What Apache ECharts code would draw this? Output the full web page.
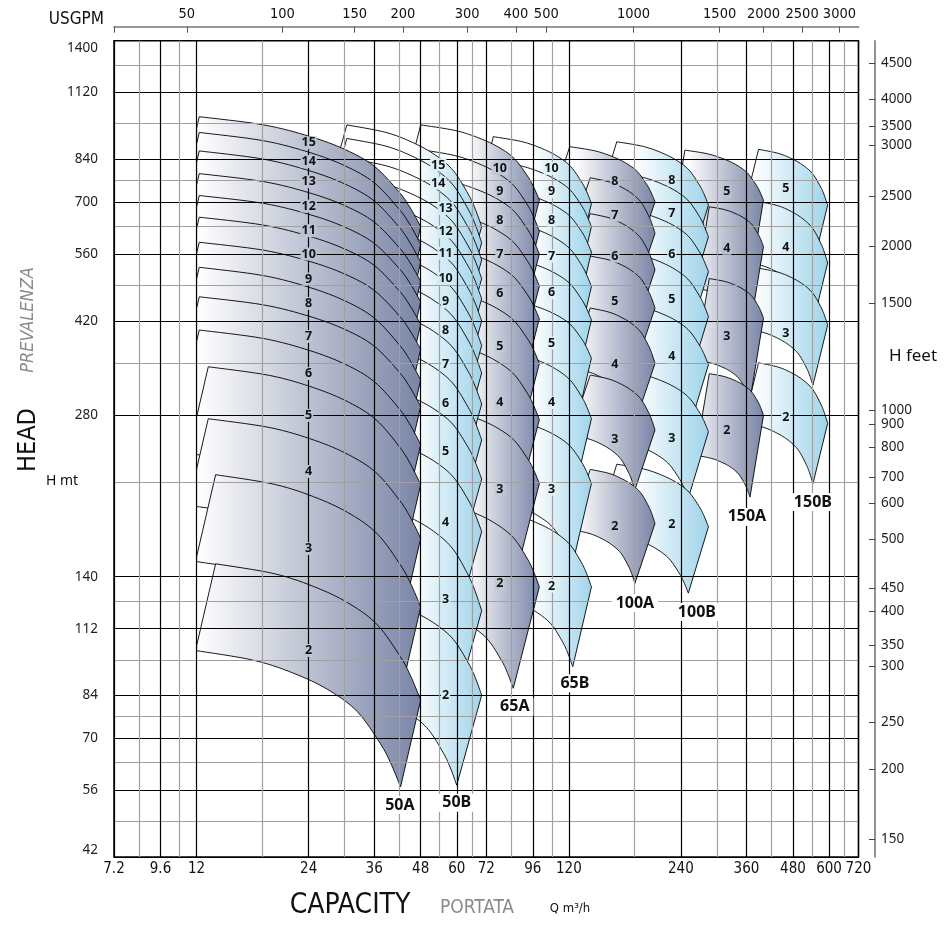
<!DOCTYPE html>
<html>
<head>
<meta charset="utf-8">
<style>
  html, body { margin: 0; padding: 0; background: #fff; }
  #chart-container { width: 951px; height: 928px; }
</style>
<script src="https://cdn.jsdelivr.net/npm/echarts@6/dist/echarts.min.js"></script>
</head>
<body>
<div id="chart-container"></div>
<script>
var dom = document.getElementById("chart-container");
var myChart = echarts.init(dom, null, {
  renderer: "canvas",
  useDirtyRect: false,
});

// ---- axes (capacity m3/h, head m) ----
var capacityLabels = [7.2, 9.6, 12, 24, 36, 48, 60, 72, 96, 120, 240, 360, 480, 600, 720];
var capacityGrid = [7.2, 8.4, 9.6, 10.8, 12, 18, 24, 30, 36, 42, 48, 54, 60, 66, 72, 84, 96, 108, 120,
  180, 240, 300, 360, 420, 480, 540, 600, 660, 720];
var headLabels = [42, 56, 70, 84, 112, 140, 280, 420, 560, 700, 840, 1120, 1400];
var headGrid = [42, 49, 56, 63, 70, 77, 84, 98, 112, 126, 140, 210, 280, 350, 420, 490, 560, 630,
  700, 770, 840, 980, 1120, 1260, 1400];

// secondary scales as printed (where each mark sits, in m3/h and in m)
var usgpmLabels = [50, 100, 150, 200, 300, 400, 500, 1000, 1500, 2000, 2500, 3000];
var usgpmAt = [11.3, 20.4, 31.9, 43.0, 64.0, 86.5, 104.4, 179, 305, 400, 508, 640];
var feetLabels = [4500, 4000, 3500, 3000, 2500, 2000, 1500, 1000, 900, 800, 700, 600, 500, 450, 400, 350, 300, 250, 200, 150];
var feetAt = [1270, 1090, 970, 894, 719, 580, 453, 286.5, 269.4, 244, 215, 191.9, 164.6, 133.2, 120.8, 104.4, 95.5, 74.8, 61.3, 45.3];

// shape of one stage curve: [share of the flow span, share of the head drop]
var curveShape = [[0, 0], [0.29, 0.074], [0.5, 0.18], [0.66, 0.3], [0.79, 0.45], [0.9, 0.68], [0.95, 0.82], [1, 1]];

// ---- pump families: per stage flow / head at the ends of the top curve ----
var stages50A = [2, 3, 4, 5, 6, 7, 8, 9, 10, 11, 12, 13, 14, 15];
var qLeft50A = [13.5, 13.5, 12.9, 12.9, 12.2, 12.2, 12.2, 12.2, 12.2, 12.2, 12.2, 12.2, 12.2, 12.2];
var topLeft50A = [148, 217, 276, 345, 404, 466, 529, 589, 656, 720, 791, 872, 944, 1010];
var topRight50A = [82.4, 123, 165, 208, 247, 291, 326, 372, 414, 456, 498, 541, 584, 630];
var labelHead50A = [102, 158, 220, 280, 335, 393, 453, 503, 560, 619, 688, 764, 833, 903];

var stages50B = [2, 3, 4, 5, 6, 7, 8, 9, 10, 11, 12, 13, 14, 15];
var topLeft50B = [130, 195, 260, 325, 390, 455, 520, 585, 650, 715, 780, 845, 920, 975];
var topRight50B = [84.2, 121, 170, 213, 252, 294, 336, 378, 420, 462, 504, 546, 588, 630];
var labelQ50B = [56, 56, 56, 56, 56, 56, 56, 56, 56, 56, 56, 56, 53.5, 53.5];
var labelHead50B = [84, 127, 177, 240, 295, 348, 404, 456, 504, 562, 616, 681, 759, 821];

var stages65A = [2, 3, 4, 5, 6, 7, 8, 9, 10];
var topLeft65A = [195, 292, 390, 487, 585, 682, 780, 877, 975];
var topRight65A = [134, 209, 275, 350, 424, 488, 560, 618, 706];
var labelHead65A = [136, 204, 296, 377, 472, 558, 646, 732, 809];

var stages65B = [2, 3, 4, 5, 6, 7, 8, 9, 10];
var topLeft65B = [185, 278, 371, 464, 556, 649, 742, 834, 927];
var topRight65B = [134, 209, 276, 358, 422, 487, 565, 630, 696];
var labelHead65B = [134.5, 204, 296, 382, 474, 555, 648, 732, 809];

var stages100A = [2, 3, 4, 5, 6, 7, 8];
var qLeft100A = [137, 137, 137, 137, 137, 137, 120.7];
var qMin100A = [129, 129, 129, 129, 129, 129, 110];
var topLeft100A = [222, 333, 444, 555, 666, 777, 888];
var topRight100A = [176, 263, 350, 444, 523, 612, 701];
var labelHead100A = [174, 252, 349, 456, 555, 662, 764];

var stages100B = [2, 3, 4, 5, 6, 7, 8];
var topLeft100B = [227, 340, 454, 567, 680, 794, 907];
var topRight100B = [173.5, 261, 348, 428, 519, 603, 691];
var labelHead100B = [175.6, 254, 360, 460, 559, 667, 769];

var stages150A = [2, 3, 4, 5];
var qLeft150A = [286, 286, 286, 246];
var topLeft150A = [335, 504, 686, 875];
var topRight150A = [280, 425, 578, 706];
var labelHead150A = [263, 393, 574, 732];

var stages150B = [2, 3, 4, 5];
var topLeft150B = [351, 527, 702, 878];
var topRight150B = [270.6, 413, 539, 691];
var labelHead150B = [277.6, 398.6, 576, 742];

var colorA = "#7a85a6";
var colorB = "#9fd4ea";
var numFont = '"Liberation Sans Narrow", "DejaVu Sans Condensed", sans-serif';
var sansFont = '"Noto Sans", "DejaVu Sans", sans-serif';

function fill(v, n) {
  var a = [];
  for (var i = 0; i < n; i++) a.push(v);
  return a;
}

function perStage(v, n) {
  return Array.isArray(v) ? v : fill(v, n);
}

function family(name, color, stages, qLeft, qRight, topLeft, topRight, shift, qMin, fadeFrom, labelQ, labelHead, tag) {
  var n = stages.length;
  return {
    name: name, color: color, stages: stages,
    qLeft: perStage(qLeft, n), qRight: qRight, topLeft: topLeft, topRight: topRight,
    shift: shift, qMin: perStage(qMin, n), fadeFrom: fadeFrom,
    labelQ: perStage(labelQ, n), labelHead: labelHead, tag: tag
  };
}

// drawn first = underneath
var families = [
  family("150B", colorB, stages150B, 388, 595, topLeft150B, topRight150B, [0.913, 0.772], null, 380, 459, labelHead150B, [543, 193]),
  family("150A", colorA, stages150A, qLeft150A, 400, topLeft150A, topRight150A, [0.92, 0.704], null, 250, 319, labelHead150A, [361, 181]),
  family("100B", colorB, stages100B, 161.4, 284.6, topLeft100B, topRight100B, [0.883, 0.752], null, 180, 226.9, labelHead100B, [265, 120.3]),
  family("100A", colorA, stages100A, qLeft100A, 204.5, topLeft100A, topRight100A, [0.883, 0.773], qMin100A, 125, 159.4, labelHead100A, [180.6, 125]),
  family("65B", colorB, stages65B, 75.2, 138, topLeft65B, topRight65B, [0.891, 0.71], null, 96, 107.8, labelHead65B, [124.6, 88.6]),
  family("65A", colorA, stages65A, 48, 100, topLeft65A, topRight65A, [0.851, 0.647], null, 64, 78.3, labelHead65A, [85.9, 80.1]),
  family("50B", colorB, stages50B, 30.4, 70, topLeft50B, topRight50B, [0.857, 0.679], null, 46, labelQ50B, labelHead50B, [60, 53]),
  family("50A", colorA, stages50A, qLeft50A, 48, topLeft50A, topRight50A, [0.883, 0.689], 12, 12, 24, labelHead50A, [42.2, 52.5])
];

function smoothLine(pts, steps) {
  var out = [];
  for (var i = 0; i < pts.length - 1; i++) {
    var p0 = pts[Math.max(i - 1, 0)], p1 = pts[i], p2 = pts[i + 1], p3 = pts[Math.min(i + 2, pts.length - 1)];
    for (var k = 0; k < steps; k++) {
      var t = k / steps, t2 = t * t, t3 = t2 * t;
      var xy = [0, 1].map(function (d) {
        return 0.5 * (2 * p1[d] + (-p0[d] + p2[d]) * t + (2 * p0[d] - 5 * p1[d] + 4 * p2[d] - p3[d]) * t2 +
          (-p0[d] + 3 * p1[d] - 3 * p2[d] + p3[d]) * t3);
      });
      out.push(xy);
    }
  }
  out.push(pts[pts.length - 1]);
  return out;
}

function clipLeft(pts, xc) {
  var out = [];
  for (var i = 0; i < pts.length; i++) {
    var a = pts[i], b = pts[(i + 1) % pts.length];
    var ina = a[0] >= xc, inb = b[0] >= xc;
    if (ina) out.push(a);
    if (ina !== inb) {
      var t = (xc - a[0]) / (b[0] - a[0]);
      out.push([xc, a[1] + t * (b[1] - a[1])]);
    }
  }
  return out;
}

function fadeRange(f, api) {
  return [api.coord([f.fadeFrom, 100])[0], api.coord([f.qRight, 100])[0]];
}

function tileSeries(f, k) {
  var data = f.stages.map(function (s, i) {
    return [f.qLeft[i], f.topLeft[i], i];
  }).reverse();
  return {
    type: "custom",
    name: f.name,
    silent: true,
    xAxisIndex: 0,
    yAxisIndex: 0,
    encode: { x: 0, y: 1 },
    data: data,
    renderItem: function (params, api) {
      var i = api.value(2);
      var qL = f.qLeft[i], qR = f.qRight, hL = f.topLeft[i], hR = f.topRight[i];
      var top = curveShape.map(function (p) {
        return [qL * Math.pow(qR / qL, p[0]), hL * Math.pow(hR / hL, p[1])];
      });
      var bottom = top.map(function (p) {
        return [p[0] * f.shift[0], p[1] * f.shift[1]];
      }).reverse();
      var toPx = function (p) { return api.coord(p); };
      var pts = smoothLine(top.map(toPx), 8).concat(smoothLine(bottom.map(toPx), 8));
      if (f.qMin[i]) pts = clipLeft(pts, api.coord([f.qMin[i], 100])[0]);
      var xr = fadeRange(f, api);
      return {
        type: "polygon",
        z2: k * 100 + (40 - f.stages[i]),
        shape: { points: pts },
        style: {
          fill: {
            type: "linear", x: xr[0], y: 0, x2: xr[1], y2: 0, global: true,
            colorStops: [{ offset: 0, color: "#ffffff" }, { offset: 1, color: f.color }]
          },
          stroke: "#000",
          lineWidth: 0.9
        }
      };
    }
  };
}

// labels: stage numbers and family names
var labelSpecs = [];
families.forEach(function (f, k) {
  f.stages.forEach(function (s, i) {
    labelSpecs.push({ q: f.labelQ[i], h: f.labelHead[i], text: String(s), fam: k, tag: false });
  });
  labelSpecs.push({ q: f.tag[0], h: f.tag[1], text: f.name, fam: k, tag: true });
});

var labelSeries = {
  type: "custom",
  silent: true,
  z: 20,
  xAxisIndex: 0,
  yAxisIndex: 0,
  encode: { x: 0, y: 1 },
  data: labelSpecs.map(function (l, i) { return [l.q, l.h, i]; }),
  renderItem: function (params, api) {
    var l = labelSpecs[api.value(2)];
    var f = families[l.fam];
    var pt = api.coord([l.q, l.h]);
    var bg = "#ffffff";
    if (!l.tag) {
      var xr = fadeRange(f, api);
      var t = Math.max(0, Math.min(1, (pt[0] - xr[0]) / (xr[1] - xr[0])));
      bg = echarts.color.lerp(t, ["#ffffff", f.color]);
    }
    return {
      type: "text",
      x: pt[0],
      y: pt[1],
      style: {
        text: l.text,
        fill: "#111",
        font: l.tag ? 'bold 16px "Noto Sans", sans-serif' : 'bold 12.5px "Noto Sans", sans-serif',
        align: "center",
        verticalAlign: "middle",
        backgroundColor: bg,
        padding: l.tag ? [1, 4] : [0, 1]
      }
    };
  }
};

function nearest(list, v) {
  var best = 0;
  for (var i = 1; i < list.length; i++) {
    if (Math.abs(Math.log(list[i] / v)) < Math.abs(Math.log(list[best] / v))) best = i;
  }
  return best;
}

var option;

option = {
  animation: false,
  backgroundColor: "#fff",
  textStyle: { fontFamily: sansFont },
  grid: {
    left: 114, right: 92.5, top: 40.7, bottom: 71,
    show: true, borderColor: "#000", borderWidth: 1.5, backgroundColor: "transparent",
    containLabel: false, outerBoundsMode: "none"
  },
  xAxis: [
    {
      type: "log", logBase: 10, min: 7.2, max: 720, position: "bottom", z: 10,
      axisLine: { show: false },
      axisTick: { show: false, customValues: capacityGrid },
      axisLabel: {
        customValues: capacityLabels, margin: 5, fontSize: 15, color: "#111", fontFamily: numFont,
        formatter: function (v) { return String(Math.round(v * 10) / 10); }
      },
      splitLine: { show: true, lineStyle: { color: ["#000", "#a0a0a0"], width: 1.2 } }
    },
    {
      type: "log", logBase: 10, min: 7.2, max: 720, position: "top", offset: 14, z: 10,
      axisLine: { show: true, onZero: false, lineStyle: { color: "#777", width: 1.6 } },
      axisTick: { show: true, inside: true, length: 6, customValues: [7.2].concat(usgpmAt), lineStyle: { color: "#555" } },
      axisLabel: {
        customValues: usgpmAt, margin: 5, fontSize: 14.5, color: "#111", fontFamily: numFont,
        formatter: function (v) { return String(usgpmLabels[nearest(usgpmAt, v)]); }
      },
      splitLine: { show: false }
    }
  ],
  yAxis: [
    {
      type: "log", logBase: 10, min: 42, max: 1400, position: "left", z: 10,
      axisLine: { show: false },
      axisTick: { show: false, customValues: headGrid },
      axisLabel: {
        customValues: headLabels, margin: 16, fontSize: 13.5, color: "#222", fontFamily: sansFont,
        verticalAlignMaxLabel: "top", verticalAlignMinLabel: "bottom",
        formatter: function (v) { return String(Math.round(v)); }
      },
      splitLine: { show: true, lineStyle: { color: ["#000", "#a0a0a0"], width: 1.2 } }
    },
    {
      type: "log", logBase: 10, min: 42, max: 1400, position: "right", offset: 16.5, z: 10,
      axisLine: { show: true, onZero: false, lineStyle: { color: "#777", width: 1.6 } },
      axisTick: { show: true, inside: true, length: 6, customValues: feetAt, lineStyle: { color: "#444" } },
      axisLabel: {
        customValues: feetAt, margin: 6, fontSize: 13.5, color: "#222", fontFamily: sansFont,
        formatter: function (v) { return String(feetLabels[nearest(feetAt, v)]); }
      },
      splitLine: { show: false }
    }
  ],
  graphic: [
    { type: "text", x: 104, y: 20, style: { text: "USGPM", font: "17px " + numFont, fill: "#111", align: "right", verticalAlign: "middle" } },
    { type: "text", x: 28, y: 440, rotation: Math.PI / 2, style: { text: "HEAD", font: "25px " + numFont, fill: "#111", align: "center", verticalAlign: "middle" } },
    { type: "text", x: 28, y: 320, rotation: Math.PI / 2, style: { text: "PREVALENZA", font: "italic 18px " + numFont, fill: "#8a8a8a", align: "center", verticalAlign: "middle" } },
    { type: "text", x: 62, y: 481, style: { text: "H mt", font: "14px " + sansFont, fill: "#111", align: "center", verticalAlign: "middle" } },
    { type: "text", x: 913, y: 356, style: { text: "H feet", font: "17px " + sansFont, fill: "#111", align: "center", verticalAlign: "middle" } },
    { type: "text", x: 350, y: 906, style: { text: "CAPACITY", font: "28px " + numFont, fill: "#111", align: "center", verticalAlign: "middle" } },
    { type: "text", x: 477, y: 908, style: { text: "PORTATA", font: "19px " + numFont, fill: "#8a8a8a", align: "center", verticalAlign: "middle" } },
    { type: "text", x: 570, y: 909, style: { text: "Q m\u00b3/h", font: "13px " + numFont, fill: "#111", align: "center", verticalAlign: "middle" } }
  ],
  series: families.map(tileSeries).concat([labelSeries])
};

if (option && typeof option === "object") {
  myChart.setOption(option);
}

window.addEventListener("resize", myChart.resize);
</script>
</body>
</html>
